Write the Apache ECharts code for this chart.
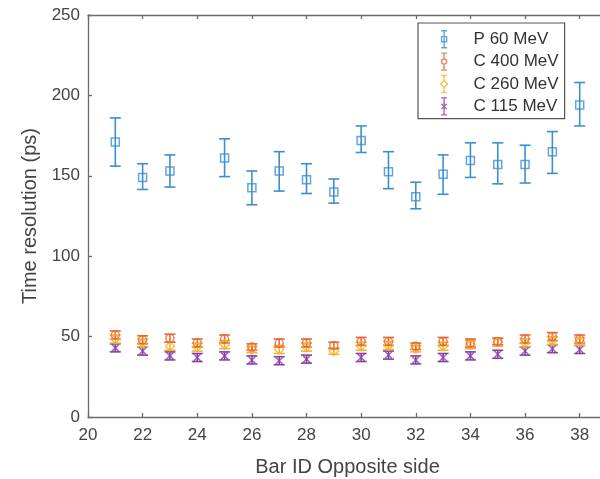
<!DOCTYPE html>
<html>
<head>
<meta charset="utf-8">
<script src="https://cdn.jsdelivr.net/npm/echarts@6/dist/echarts.min.js"></script>
<style>
html,body{margin:0;padding:0;background:#fff;}
#main{width:600px;height:479px;}
</style>
</head>
<body>
<div id="main"></div>
<script>
// ---- data ----
const barIds = [21,22,23,24,25,26,27,28,29,30,31,32,33,34,35,36,37,38];

const p60Mean  = [171, 149, 153, null, 161, 142.5, 153, 147.5, 140, 172, 152.5, 137, 151, 159.5, 157, 157, 165, 194];
const p60Low   = [156, 141.5, 143, null, 149.5, 132, 140.5, 139, 133, 164.5, 142, 129.5, 138.5, 149, 145, 145.5, 151.5, 181];
const p60High  = [186, 157.5, 163, null, 173, 153, 165, 157.5, 148, 181, 165, 146, 163, 170.5, 170.5, 169, 177.5, 208];

const c400Mean = [51, 48, 49, 46, 48.5, 43.5, 46, 46, 44.5, 47, 47, 44, 47, 46, 47, 48.5, 50, 48.5];
const c400Err  = [2.5, 2.5, 2.5, 2.5, 2.5, 2, 2.5, 2.5, 2, 2.5, 2.5, 2, 2.5, 2.5, 2, 2.5, 2.5, 2.5];

const c260Mean = [48.5, 46, 44, 43.5, 45, 42, 42, 43.5, 41, 44, 44.5, 42.5, 44, 45, 46.5, 46, 47.5, 47];
const c260Err  = [2.5, 2.5, 2.5, 2.5, 2.5, 2, 2.5, 2.5, 2, 2.5, 2.5, 2, 2.5, 2.5, 2.5, 2.5, 2.5, 2.5];

const c115Mean = [43, 41, 38, 37, 38, 35.5, 35, 36, null, 37, 38.5, 35.5, 37, 38, 39, 41, 42.5, 42];
const c115Err  = [2.5, 2.5, 2.5, 2.5, 2.5, 2.5, 2.5, 2.5, null, 2.5, 2.5, 2.5, 2.5, 2.5, 2.5, 2.5, 2.5, 2.5];

const seriesNames = ['P 60 MeV', 'C 400 MeV', 'C 260 MeV', 'C 115 MeV'];
const xTicks = {min: 20, max: 39, interval: 2};
const yTicks = {min: 0, max: 250, interval: 50};

// ---- build ----
const colors = ['#3a8fd2', '#e5693a', '#f0b42a', '#8a3fa6'];
const FONT = "'Liberation Sans', Arial, Helvetica, sans-serif";

function pts(mean){ return barIds.map((x,i)=> [x, mean[i]]).filter(d=>d[1]!=null); }
function errAbs(lo, hi){ return barIds.map((x,i)=> [x, lo[i], hi[i]]).filter(d=>d[1]!=null); }
function errSym(mean, err){ return barIds.map((x,i)=> [x, mean[i]==null?null:mean[i]-err[i], mean[i]==null?null:mean[i]+err[i]]).filter(d=>d[1]!=null); }

function errorSeries(name, data, color){
  return {
    name: name + ' (error)', type: 'custom', data: data, z: 2, clip: true,
    itemStyle: {color: color},
    renderItem: function(params, api){
      const x = api.value(0);
      const lo = api.coord([x, api.value(1)]);
      const hi = api.coord([x, api.value(2)]);
      const hw = 5.5;
      const st = {stroke: color, lineWidth: 1.6};
      return {type: 'group', children: [
        {type:'line', shape:{x1:lo[0], y1:lo[1], x2:hi[0], y2:hi[1]}, style: st},
        {type:'line', shape:{x1:lo[0]-hw, y1:lo[1], x2:lo[0]+hw, y2:lo[1]}, style: st},
        {type:'line', shape:{x1:hi[0]-hw, y1:hi[1], x2:hi[0]+hw, y2:hi[1]}, style: st}
      ]};
    }
  };
}

const markerSymbols = [
  'rect',
  'circle',
  'diamond',
  'path://M0,0L10,10M10,0L0,10'
];
const markerSizes = [8, 8, 9, 7];
const legendIcons = [
  'path://M5,0V20M1.5,0H8.5M1.5,20H8.5M2,7H8V13H2Z',
  'path://M5,0V7M5,13V20M1.5,0H8.5M1.5,20H8.5M8,10A3,3 0 1 1 2,10A3,3 0 1 1 8,10Z',
  'path://M5,0V6M5,14V20M1.5,0H8.5M1.5,20H8.5M5,6L9,10L5,14L1,10Z',
  'path://M5,0V20M1.5,0H8.5M1.5,20H8.5M2,7L8,13M8,7L2,13'
];

const means = [p60Mean, c400Mean, c260Mean, c115Mean];
const errData = [
  errAbs(p60Low, p60High),
  errSym(c400Mean, c400Err),
  errSym(c260Mean, c260Err),
  errSym(c115Mean, c115Err)
];

const series = [];
const order = [3, 2, 1, 0];
order.forEach(i => {
  series.push(errorSeries(seriesNames[i], errData[i], colors[i]));
  series.push({
    name: seriesNames[i], type: 'scatter', data: pts(means[i]),
    symbol: markerSymbols[i], symbolSize: markerSizes[i], z: 3,
    itemStyle: {color: 'rgba(255,255,255,0)', borderColor: colors[i], borderWidth: 1.5},
    emphasis: {disabled: true}
  });
});

const axisLineStyle = {color: '#6b6b6b', width: 1.3};
const option = {
  animation: false,
  textStyle: {fontFamily: FONT},
  grid: {left: 88, top: 15, right: -7, bottom: 62, containLabel: false, outerBoundsMode: 'none'},
  legend: {
    orient: 'vertical', left: 418, top: 23,
    data: seriesNames.map((n, i) => ({
      name: n, icon: legendIcons[i],
      itemStyle: {color: 'rgba(255,255,255,0)', borderColor: colors[i], borderWidth: 1.4}
    })),
    itemWidth: 9, itemHeight: 17, itemGap: 4,
    padding: [7, 6, 3, 22],
    borderColor: '#555', borderWidth: 1.2, backgroundColor: '#fff',
    textStyle: {fontSize: 17, color: '#333', fontFamily: FONT, padding: [0, 0, 0, 20]},
    selectedMode: false
  },
  xAxis: [{
    type: 'value', min: xTicks.min, max: xTicks.max, interval: xTicks.interval,
    name: 'Bar ID Opposite side', nameLocation: 'middle', nameGap: 40,
    nameTextStyle: {fontSize: 20, color: '#444', fontFamily: FONT},
    axisLine: {lineStyle: axisLineStyle},
    axisTick: {inside: true, length: 4, lineStyle: axisLineStyle},
    axisLabel: {fontSize: 17, color: '#444', margin: 10, showMaxLabel: false, fontFamily: FONT},
    splitLine: {show: false}
  }, {
    type: 'value', position: 'top', min: xTicks.min, max: xTicks.max, interval: xTicks.interval,
    axisLine: {lineStyle: axisLineStyle},
    axisTick: {inside: true, length: 4, lineStyle: axisLineStyle},
    axisLabel: {show: false},
    splitLine: {show: false}
  }],
  yAxis: [{
    type: 'value', min: yTicks.min, max: yTicks.max, interval: yTicks.interval,
    name: 'Time resolution (ps)', nameLocation: 'middle', nameGap: 39,
    nameTextStyle: {fontSize: 20, color: '#444', fontFamily: FONT},
    axisLine: {show: true, lineStyle: axisLineStyle},
    axisTick: {show: true, inside: true, length: 4, lineStyle: axisLineStyle},
    axisLabel: {fontSize: 17, color: '#444', margin: 8, fontFamily: FONT},
    splitLine: {show: false}
  }],
  series: series
};

const chart = echarts.init(document.getElementById('main'), null, {renderer: 'canvas'});
chart.setOption(option);
</script>
</body>
</html>
